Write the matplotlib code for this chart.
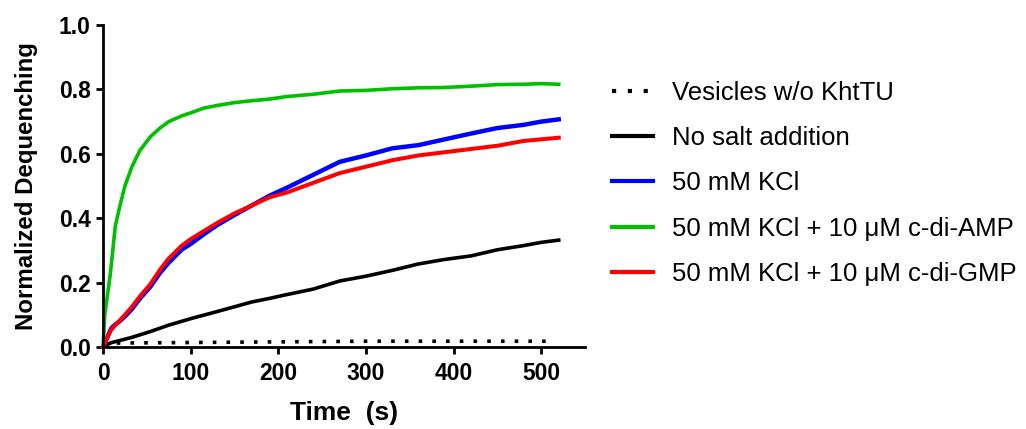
import numpy as np
import matplotlib.pyplot as plt

plt.rcParams['font.family'] = ['Liberation Sans', 'DejaVu Sans']

# values
t_fast = [0, 2, 5, 8, 10, 14, 19, 25, 33, 42, 54, 65, 75, 90, 100, 115, 130, 150, 170,
          190, 210, 240, 270, 300, 330, 360, 390, 420, 450, 480, 500, 520]
amp = [0.0, 0.10, 0.16, 0.22, 0.27, 0.375, 0.435, 0.50, 0.56, 0.61, 0.653, 0.68, 0.70,
       0.718, 0.727, 0.742, 0.75, 0.759, 0.765, 0.77, 0.778, 0.785, 0.795, 0.797, 0.802,
       0.805, 0.806, 0.81, 0.815, 0.816, 0.818, 0.816]
kcl = [0.0, 0.01, 0.03, 0.05, 0.06, 0.07, 0.08, 0.095, 0.118, 0.15, 0.187, 0.23, 0.262,
       0.303, 0.32, 0.35, 0.378, 0.41, 0.44, 0.47, 0.495, 0.535, 0.575, 0.595, 0.617,
       0.627, 0.645, 0.663, 0.68, 0.69, 0.70, 0.707]
gmp = [0.0, 0.01, 0.03, 0.048, 0.055, 0.068, 0.082, 0.10, 0.125, 0.157, 0.195, 0.24,
       0.275, 0.315, 0.335, 0.36, 0.385, 0.415, 0.44, 0.465, 0.48, 0.51, 0.54, 0.56,
       0.58, 0.595, 0.605, 0.615, 0.625, 0.64, 0.645, 0.65]

t_slow = [0, 5, 10, 19, 33, 54, 75, 100, 130, 150, 170, 190, 210, 240, 270, 300, 330,
          360, 390, 420, 450, 480, 500, 520]
nosalt = [0.0, 0.008, 0.014, 0.02, 0.03, 0.048, 0.068, 0.088, 0.11, 0.125, 0.14, 0.151,
          0.163, 0.18, 0.205, 0.22, 0.238, 0.258, 0.272, 0.283, 0.302, 0.315, 0.325, 0.332]

t_ves = [0, 100, 200, 300, 400, 515]
ves = [0.012, 0.014, 0.016, 0.018, 0.018, 0.018]

fig = plt.figure(figsize=(10.26, 4.29), dpi=100)
ax = fig.add_axes([0.1004, 0.1911, 0.4698, 0.7506])

lw = 2.6
ax.plot(t_ves, ves, color='black', lw=lw, dashes=(1, 2.8), label='Vesicles w/o KhtTU', clip_on=False)
ax.plot(t_slow, nosalt, color='black', lw=lw, label='No salt addition', clip_on=False)
ax.plot(t_fast, kcl, color='#0000ff', lw=lw + 0.6, label='50 mM KCl', clip_on=False)
ax.plot(t_fast, amp, color='#00c000', lw=lw, label='50 mM KCl + 10 μM c-di-AMP', clip_on=False)
ax.plot(t_fast, gmp, color='#ff0000', lw=lw + 0.3, label='50 mM KCl + 10 μM c-di-GMP', clip_on=False)

ax.set_xlim(0, 550)
ax.set_ylim(0, 1.0)
ax.set_xticks([0, 100, 200, 300, 400, 500])
ax.set_yticks([0.0, 0.2, 0.4, 0.6, 0.8, 1.0])
ax.set_yticklabels(['0.0', '0.2', '0.4', '0.6', '0.8', '1.0'])

for s in ['top', 'right']:
    ax.spines[s].set_visible(False)
for s in ['left', 'bottom']:
    ax.spines[s].set_linewidth(2.0)
ax.tick_params(width=2.0, length=5, labelsize=16.5, pad=4)
ax.tick_params(axis='x', pad=6)
for lab in ax.get_xticklabels() + ax.get_yticklabels():
    lab.set_fontweight('bold')

ax.set_xlabel('Time  (s)', fontsize=19, fontweight='bold', labelpad=11)
ax.set_ylabel('Normalized Dequenching', fontsize=17.3, fontweight='bold', labelpad=15)

leg = fig.legend(loc='upper left', bbox_to_anchor=(0.5965, 0.812), frameon=False,
                 fontsize=18.5, handlelength=1.6, handletextpad=0.74, labelspacing=0.83,
                 borderpad=0, borderaxespad=0)
for h in leg.get_lines():
    h.set_linewidth(3)

fig.savefig('out.png', dpi=100)
